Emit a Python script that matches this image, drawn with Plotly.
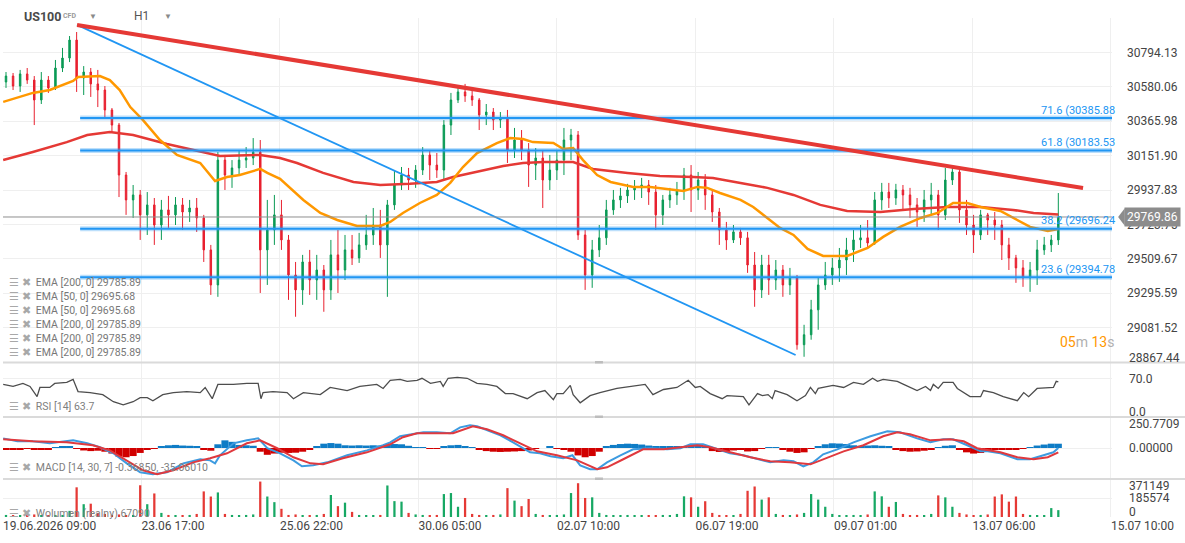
import plotly.graph_objects as go
from plotly.subplots import make_subplots

# H1 candles, one slot per candle (index 0..149)
candle_open = [30610, 30647, 30585, 30660, 30622, 30498, 30622, 30573, 30697, 30759,
               30871, 30635, 30672, 30598, 30560, 30436, 30342, 30031, 29876, 29907,
               29783, 29845, 29720, 29814, 29783, 29845, 29801, 29826, 29764, 29565,
               29347, 30124, 30031, 30075, 30124, 30137, 30174, 29565, 29689, 29783,
               29627, 29409, 29316, 29490, 29378, 29440, 29316, 29534, 29440, 29565,
               29515, 29596, 29658, 29720, 29596, 29845, 29969, 30031, 30000, 30062,
               30156, 30093, 30062, 30342, 30498, 30548, 30523, 30498, 30405, 30423,
               30373, 30386, 30187, 30249, 30187, 30093, 30137, 30000, 30062, 30124,
               30249, 30280, 29658, 29409, 29565, 29640, 29814, 29876, 29901, 29938,
               29951, 29969, 29925, 29783, 29876, 29907, 29938, 30031, 29938, 30000,
               29907, 29801, 29689, 29627, 29677, 29640, 29471, 29316, 29471, 29378,
               29440, 29347, 29391, 28975, 29037, 29192, 29347, 29409, 29453, 29502,
               29565, 29627, 29640, 29608, 29876, 29925, 29888, 29938, 29907, 29845,
               29801, 29876, 29907, 29783, 30000, 30050, 29814, 29720, 29658, 29783,
               29751, 29720, 29596, 29515, 29453, 29391, 29440, 29565, 29596, 29627]
candle_high = [30672, 30666, 30685, 30697, 30647, 30672, 30647, 30747, 30822, 30896,
               30921, 30709, 30697, 30685, 30585, 30448, 30355, 30050, 29969, 29938,
               29925, 29888, 29876, 29901, 29894, 29888, 29876, 29888, 29783, 29596,
               30174, 30156, 30124, 30187, 30205, 30261, 30249, 29876, 29907, 29876,
               29658, 29490, 29534, 29565, 29534, 29471, 29627, 29689, 29658, 29658,
               29671, 29783, 29826, 29814, 29876, 30062, 30081, 30075, 30093, 30205,
               30187, 30168, 30373, 30542, 30591, 30598, 30560, 30510, 30473, 30448,
               30423, 30436, 30324, 30311, 30230, 30199, 30187, 30156, 30187, 30324,
               30318, 30305, 29689, 29627, 29720, 29876, 29938, 29951, 29976, 30000,
               30013, 30000, 29969, 29907, 29951, 29988, 30075, 30093, 30050, 30037,
               29938, 29826, 29739, 29720, 29702, 29677, 29552, 29534, 29534, 29502,
               29471, 29453, 29409, 29099, 29254, 29391, 29490, 29515, 29577, 29640,
               29689, 29720, 29751, 29925, 29982, 29982, 29976, 29969, 29951, 29888,
               29938, 29982, 29938, 30075, 30081, 30062, 29876, 29783, 29814, 29795,
               29801, 29751, 29640, 29534, 29502, 29490, 29627, 29646, 29658, 29919]
candle_low = [30573, 30560, 30548, 30598, 30342, 30473, 30542, 30560, 30672, 30734,
              30548, 30529, 30517, 30454, 30392, 30299, 29894, 29783, 29764, 29627,
              29658, 29596, 29627, 29702, 29720, 29689, 29739, 29677, 29490, 29285,
              29273, 29938, 29951, 30031, 30075, 30093, 29297, 29347, 29596, 29565,
              29254, 29149, 29223, 29285, 29254, 29180, 29254, 29297, 29378, 29471,
              29484, 29565, 29596, 29515, 29273, 29814, 29938, 29938, 29951, 30031,
              30000, 30013, 30000, 30280, 30479, 30486, 30461, 30311, 30342, 30311,
              30324, 30106, 30137, 30124, 29957, 30000, 29826, 29938, 30000, 30031,
              30124, 29627, 29316, 29329, 29521, 29596, 29783, 29826, 29857, 29876,
              29888, 29845, 29689, 29720, 29826, 29845, 29876, 29801, 29876, 29814,
              29739, 29596, 29565, 29608, 29596, 29422, 29211, 29266, 29285, 29316,
              29273, 29285, 28944, 28900, 29006, 29068, 29316, 29347, 29366, 29409,
              29490, 29577, 29577, 29596, 29814, 29826, 29845, 29814, 29764, 29708,
              29739, 29783, 29689, 29751, 29969, 29733, 29658, 29546, 29627, 29658,
              29627, 29502, 29440, 29360, 29335, 29304, 29347, 29534, 29552, 29596]
candle_close = [30647, 30585, 30660, 30622, 30498, 30622, 30573, 30697, 30759, 30871,
                30635, 30672, 30598, 30560, 30436, 30342, 30031, 29876, 29907, 29783,
                29845, 29720, 29814, 29783, 29845, 29801, 29826, 29764, 29565, 29347,
                30124, 30031, 30075, 30124, 30137, 30174, 29565, 29689, 29783, 29627,
                29409, 29316, 29490, 29378, 29440, 29316, 29534, 29440, 29565, 29515,
                29596, 29658, 29720, 29596, 29845, 29969, 30031, 30000, 30062, 30156,
                30093, 30062, 30342, 30498, 30548, 30523, 30498, 30405, 30423, 30373,
                30386, 30187, 30249, 30187, 30093, 30137, 30000, 30062, 30124, 30249,
                30280, 29658, 29409, 29565, 29640, 29814, 29876, 29901, 29938, 29951,
                29969, 29925, 29783, 29876, 29907, 29938, 30031, 29938, 30000, 29907,
                29801, 29689, 29627, 29677, 29640, 29471, 29316, 29471, 29378, 29440,
                29347, 29391, 28975, 29037, 29192, 29347, 29409, 29453, 29502, 29565,
                29627, 29640, 29608, 29876, 29925, 29888, 29938, 29907, 29845, 29801,
                29876, 29907, 29783, 30000, 30050, 29814, 29720, 29658, 29783, 29751,
                29720, 29596, 29515, 29453, 29391, 29440, 29565, 29596, 29627, 29769.86]
volume = [20000, 15000, 18000, 12000, 25000, 15000, 12000, 15000, 20000, 60000,
          290000, 125000, 130000, 40000, 30000, 20000, 25000, 15000, 20000, 310000,
          125000, 230000, 40000, 20000, 15000, 18000, 20000, 30000, 250000, 200000,
          240000, 30000, 20000, 15000, 20000, 25000, 346000, 200000, 145000, 80000,
          20000, 25000, 18000, 15000, 20000, 30000, 215000, 106000, 140000, 50000,
          20000, 15000, 18000, 20000, 308000, 155000, 150000, 40000, 25000, 20000,
          15000, 20000, 224000, 234000, 100000, 186000, 30000, 20000, 15000, 20000,
          25000, 282000, 160000, 106000, 176000, 30000, 20000, 15000, 20000, 25000,
          234000, 330000, 186000, 192000, 40000, 20000, 15000, 18000, 20000, 15000,
          12000, 18000, 15000, 20000, 15000, 30000, 202000, 192000, 100000, 154000,
          40000, 20000, 15000, 18000, 30000, 256000, 298000, 170000, 192000, 30000,
          20000, 15000, 25000, 40000, 224000, 170000, 100000, 30000, 18000, 15000,
          20000, 18000, 25000, 250000, 202000, 100000, 147000, 30000, 15000, 20000,
          18000, 30000, 211000, 192000, 100000, 40000, 25000, 15000, 20000, 25000,
          200000, 221000, 150000, 200000, 30000, 20000, 15000, 18000, 87000, 67090]
macd_hist = [-16, -16, -10, -5, -15, -16, -10, 8, 12, 10,
             -8, -20, -25, -22, -30, -45, -70, -75, -65, -40,
             -12, -5, 15, 22, 25, 20, 18, 15, -15, -22,
             30, 62, 50, 25, 22, 18, -30, -55, -45, -38,
             -40, -38, -30, -10, 12, 35, 40, 35, 22, 20,
             22, 20, 22, 20, 28, 32, 30, 18, 8, 6,
             -5, -6, 10, 22, 25, 15, 5, -12, -25, -30,
             -32, -30, -28, -25, -20, -8, 0, 12, -8, -12,
             -30, -60, -75, -65, -30, 10, 25, 32, 35, 33,
             28, 20, 15, 12, 10, 12, 15, 20, 18, 10,
             -25, -32, -30, -20, -15, -28, -25, -8, 4, 8,
             -10, -30, -40, -35, -5, 12, 30, 38, 36, 32,
             22, 18, 20, 22, 18, 14, -10, -25, -30, -28,
             -22, -10, 5, 18, 22, -12, -35, -45, -40, -28,
             -15, -15, -12, -12, -8, 5, 20, 28, 35, 34.69]

# moving averages, read at slot positions
ema50_x = [-0.4, 3.8, 6.2, 9.5, 10.2, 13.3, 14.7, 16.1, 17.6, 19.4, 21.8, 24.2, 27.5, 29.6, 31.3, 33.1, 36.0,
           37.0, 38.8, 42.1, 44.5, 46.9, 49.7, 53.0, 54.4, 56.2, 58.6, 61.0, 62.9, 64.7, 66.7, 69.5, 71.4,
           73.2, 74.6, 77.5, 78.9, 80.3, 81.7, 83.7, 85.6, 88.8, 91.2, 95.9, 97.9, 99.3, 101.1, 104.0, 105.8,
           107.8, 109.6, 111.5, 113.5, 115.7, 119.1, 122.0, 124.2, 126.6, 129.5, 131.9, 134.1, 136.1, 138.0,
           140.8, 142.6, 145.0, 147.5, 149.0]
ema50 = [30486, 30542, 30560, 30616, 30641, 30647, 30622, 30560, 30454, 30373, 30249, 30156, 30106, 29994,
         30019, 30031, 30069, 30044, 30007, 29876, 29795, 29751, 29714, 29714, 29739, 29795, 29857, 29907,
         29982, 30081, 30168, 30230, 30261, 30255, 30236, 30230, 30193, 30199, 30124, 30031, 29988, 29957,
         29957, 29932, 29957, 29951, 29919, 29876, 29832, 29764, 29702, 29658, 29571, 29527, 29527, 29577,
         29646, 29708, 29764, 29795, 29857, 29857, 29832, 29807, 29764, 29708, 29683, 29695.68]
ema200_x = [-0.4, 3.8, 8.6, 11.5, 14.7, 18.0, 22.8, 27.5, 30.3, 36.0, 38.8, 41.2, 44.9, 49.2, 53.0, 57.2,
            61.0, 63.3, 66.7, 70.4, 73.2, 76.1, 80.3, 83.1, 88.0, 92.6, 97.3, 100.1, 104.0, 107.8, 111.5,
            115.3, 119.1, 123.8, 128.5, 133.3, 138.0, 142.6, 145.5, 149.0]
ema200 = [30124, 30174, 30236, 30280, 30299, 30280, 30224, 30174, 30149, 30156, 30137, 30106, 30044, 29988,
          29969, 29976, 29988, 30019, 30050, 30087, 30106, 30112, 30112, 30069, 30044, 30025, 30019, 30013,
          29982, 29951, 29907, 29845, 29807, 29801, 29820, 29832, 29832, 29814, 29795, 29785.89]

rsi_x = [-0.4, 1.0, 2.4, 3.4, 4.4, 4.8, 6.2, 6.9, 8.6, 9.5, 10.2, 11.9, 13.7, 15.2, 16.6, 18.0, 19.0, 20.0,
         20.8, 22.2, 23.7, 25.6, 27.5, 28.2, 29.2, 30.0, 32.2, 34.1, 35.7, 36.1, 36.4, 37.8, 39.8, 40.7, 42.1,
         44.5, 45.9, 48.3, 50.1, 52.5, 53.4, 54.4, 55.8, 56.8, 58.2, 58.9, 60.1, 61.5, 61.9, 62.6, 63.9, 65.3,
         66.7, 68.1, 69.5, 70.7, 71.8, 73.8, 75.2, 76.3, 77.5, 78.0, 78.9, 79.9, 80.3, 81.3, 82.7, 84.1, 86.5,
         88.4, 90.5, 91.6, 93.1, 95.0, 96.6, 97.6, 98.3, 99.7, 101.4, 102.1, 104.4, 105.2, 106.4, 107.1, 107.9,
         108.5, 108.9, 110.6, 112.0, 113.2, 113.9, 114.6, 115.0, 117.1, 118.6, 120.0, 121.4, 122.7, 123.4,
         124.2, 126.2, 127.1, 129.0, 130.2, 130.9, 131.3, 132.0, 132.7, 134.1, 134.7, 136.5, 138.0, 138.4,
         139.8, 141.2, 143.2, 144.1, 144.8, 146.0, 148.3, 148.7, 149.0]
rsi = [59.3, 55.6, 61.1, 55.6, 37.0, 53.7, 53.7, 61.1, 63.0, 68.5, 46.3, 44.4, 40.7, 27.8, 22.2, 27.8, 35.2,
       35.2, 29.6, 40.7, 44.4, 46.3, 44.4, 53.7, 33.3, 59.3, 59.3, 61.1, 61.1, 33.3, 44.4, 46.3, 44.4, 33.3,
       44.4, 40.7, 53.7, 48.1, 55.6, 59.3, 51.9, 66.7, 68.5, 64.8, 66.7, 70.4, 61.1, 64.8, 55.6, 70.4, 72.2,
       70.4, 61.1, 59.3, 55.6, 42.6, 42.6, 33.3, 44.4, 48.1, 31.5, 42.6, 42.6, 57.4, 40.7, 25.9, 38.9, 44.4,
       51.9, 55.6, 59.3, 40.7, 50.0, 53.7, 66.7, 53.7, 55.6, 42.6, 33.3, 38.9, 37.0, 22.2, 42.6, 38.9, 40.7,
       33.3, 48.1, 40.7, 29.6, 38.9, 53.7, 42.6, 51.9, 57.4, 53.7, 63.0, 59.3, 70.4, 64.8, 68.5, 64.8, 59.3,
       48.1, 55.6, 48.1, 59.3, 51.9, 63.0, 63.0, 51.9, 37.0, 37.0, 48.1, 44.4, 37.0, 29.6, 44.4, 37.0, 51.9,
       53.7, 64.8, 63.7]

macd_x = [-0.4, 1.6, 3.8, 6.2, 9.5, 11.5, 13.3, 15.2, 17.1, 19.0, 20.8, 22.8, 25.1, 27.5, 28.9, 29.6, 30.3,
          32.2, 34.1, 35.7, 37.0, 38.8, 40.7, 41.9, 43.5, 45.5, 48.3, 51.1, 53.4, 54.4, 55.8, 57.2, 59.1, 61.0,
          62.9, 64.3, 65.7, 66.7, 68.1, 70.0, 71.8, 73.2, 74.2, 75.6, 77.1, 78.9, 80.2, 81.3, 82.7, 83.7, 85.1,
          87.0, 88.8, 91.2, 93.6, 95.5, 96.9, 98.7, 100.7, 102.5, 104.4, 106.4, 108.2, 110.1, 111.5, 112.9,
          114.3, 115.7, 117.7, 120.0, 122.4, 124.8, 126.6, 129.0, 130.9, 132.7, 134.1, 136.1, 138.0, 139.0,
          140.8, 143.2, 145.0, 146.9, 148.3, 149.0]
macd = [78, 54, 54, 38, 62, 38, 6, -43, -124, -197, -213, -197, -124, -91, -100, -124, -59, 38, 62, 78, -2,
        -43, -100, -148, -140, -116, -59, -19, 22, 46, 95, 111, 127, 127, 119, 167, 184, 176, 143, 103, 46, -2,
        -35, -43, -67, -83, -59, -140, -172, -172, -116, -59, -11, -2, -11, -2, 30, 30, -11, -43, -59, -91,
        -116, -100, -108, -148, -116, -51, -11, 46, 95, 135, 127, 78, 46, 70, 70, 22, -27, -27, -43, -91, -91,
        -59, -35, -0.3685]
signal_x = [-0.4, 3.8, 8.6, 12.3, 14.7, 17.1, 19.4, 21.4, 23.7, 26.5, 28.9, 31.3, 34.1, 36.0, 38.4, 40.7, 43.1,
            44.9, 47.7, 51.1, 53.4, 54.4, 56.2, 58.2, 61.0, 63.3, 66.1, 68.1, 70.4, 73.2, 75.2, 78.0, 80.9,
            83.7, 85.1, 87.4, 90.2, 93.1, 95.9, 97.9, 99.7, 102.5, 105.4, 108.2, 111.0, 113.9, 115.7, 118.6,
            121.4, 124.2, 126.2, 128.0, 130.9, 133.7, 135.6, 137.5, 140.8, 143.2, 145.5, 147.5, 149.0]
signal = [70, 54, 46, 22, -19, -100, -180, -213, -180, -116, -83, -43, 38, 62, -2, -75, -124, -132, -83, -35,
          6, 30, 87, 119, 119, 119, 176, 151, 103, 30, -27, -59, -100, -172, -156, -91, -11, -11, 6, 22, 6,
          -35, -75, -108, -116, -132, -91, -27, 22, 95, 127, 111, 62, 70, 54, -2, -35, -75, -91, -75, -35.0601]

# drawings: fibonacci levels and trend lines
fib_levels = [30385.88, 30183.53, 29696.24, 29394.78]
fib_names = ['71.6', '61.8', '38.2', '23.6']
fib_span = [10.5, 157.3]
trend_red_x = [10.06, 152.5]
trend_red_y = [30965, 29950]
trend_blue_x = [10.06, 111.8]
trend_blue_y = [30965, 28911]

# axes
price_ticks = [29081.52, 29295.59, 29509.67, 29723.75, 29937.83, 30151.90, 30365.98, 30580.06, 30794.13]
price_labels = ['29081.52', '29295.59', '29509.67', '29723.75', '29937.83', '30151.90', '30365.98',
                '30580.06', '30794.13']
price_range = [28867.44, 31008.2]
time_ticks = [-0.42, 19.18, 38.79, 58.4, 78.01, 97.62, 117.23, 136.84, 156.45]
time_labels = ['19.06.2026 09:00', '23.06 17:00', '25.06 22:00', '30.06 05:00', '02.07 10:00',
               '06.07 19:00', '09.07 01:00', '13.07 06:00', '15.07 10:00']
rsi_ticks = [0, 70]
rsi_labels = ['0.0', '70.0']
macd_ticks = [-250.771, 0, 250.7709]
macd_labels = ['-250.771', '0.00000', '250.7709']
vol_ticks = [0, 185574, 371149]
vol_labels = ['0', '185574', '371149']

legend_lines = ['EMA [200, 0] 29785.89', 'EMA [50, 0] 29695.68', 'EMA [50, 0] 29695.68',
                'EMA [200, 0] 29785.89', 'EMA [200, 0] 29785.89', 'EMA [200, 0] 29785.89']

GREEN = '#0a9a55'
RED = '#e8202f'
FIB_BLUE = '#2196f3'
GRID = '#efefef'
AXIS_TXT = '#444444'

slots = list(range(len(candle_close)))
up = [c >= o for o, c in zip(candle_open, candle_close)]

fig = make_subplots(rows=4, cols=1, shared_xaxes=True, vertical_spacing=0,
                    row_heights=[344, 55, 62, 38])

fig.add_trace(go.Candlestick(x=slots, open=candle_open, high=candle_high, low=candle_low, close=candle_close,
                             increasing=dict(line=dict(color=GREEN, width=1), fillcolor=GREEN),
                             decreasing=dict(line=dict(color=RED, width=1), fillcolor=RED),
                             whiskerwidth=0), row=1, col=1)
fig.add_trace(go.Scatter(x=ema200_x, y=ema200, mode='lines', line=dict(color='#e53935', width=2.5)), row=1, col=1)
fig.add_trace(go.Scatter(x=ema50_x, y=ema50, mode='lines', line=dict(color='#ff9800', width=2.5)), row=1, col=1)
for lvl in fib_levels:
    fig.add_trace(go.Scatter(x=fib_span, y=[lvl, lvl], mode='lines',
                             line=dict(color='rgba(33,150,243,0.3)', width=5)), row=1, col=1)
    fig.add_trace(go.Scatter(x=fib_span, y=[lvl, lvl], mode='lines',
                             line=dict(color=FIB_BLUE, width=2)), row=1, col=1)
fig.add_trace(go.Scatter(x=trend_blue_x, y=trend_blue_y, mode='lines',
                         line=dict(color=FIB_BLUE, width=1.8)), row=1, col=1)
fig.add_trace(go.Scatter(x=trend_red_x, y=trend_red_y, mode='lines',
                         line=dict(color='#e53935', width=4)), row=1, col=1)

# RSI
fig.add_trace(go.Scatter(x=rsi_x, y=rsi, mode='lines', line=dict(color='#4d4d4d', width=1.3)), row=2, col=1)

# MACD
fig.add_trace(go.Bar(x=slots, y=macd_hist, width=1.0,
                     marker=dict(color=['#0e7cc6' if h >= 0 else '#d10000' for h in macd_hist], line_width=0)),
              row=3, col=1)
fig.add_trace(go.Scatter(x=macd_x, y=macd, mode='lines', line=dict(color='#3d9be0', width=2)), row=3, col=1)
fig.add_trace(go.Scatter(x=signal_x, y=signal, mode='lines', line=dict(color='#e0393e', width=2)), row=3, col=1)

# volume
fig.add_trace(go.Bar(x=slots, y=volume, width=0.32,
                     marker=dict(color=['#17a864' if u else '#e53935' for u in up], line_width=0)),
              row=4, col=1)

fig.update_xaxes(range=[-0.425, 156.6], tickvals=time_ticks, ticktext=time_labels, showgrid=True,
                 gridcolor=GRID, gridwidth=1, zeroline=False, showline=False, ticks='',
                 rangeslider_visible=False)
fig.update_xaxes(ticklabelposition='outside right', tickfont=dict(size=12, color=AXIS_TXT), row=4, col=1)

fig.update_yaxes(side='right', showgrid=True, gridcolor=GRID, zeroline=False, showline=False, ticks='')
fig.update_yaxes(range=price_range, tickvals=price_ticks, ticktext=price_labels, ticklabelstandoff=14,
                 tickfont=dict(size=12, color=AXIS_TXT), row=1, col=1)
fig.update_yaxes(range=[0, 100], tickvals=rsi_ticks, showticklabels=False, row=2, col=1)
fig.update_yaxes(range=[-250.7709, 250.7709], tickvals=[0], showticklabels=False, row=3, col=1)
fig.update_yaxes(range=[0, 371149], tickvals=[185574], showticklabels=False, row=4, col=1)

ann = []
# axis labels of the lower panels (edge ones nudged inside, as on the platform)
for ticks, labels, yref, shifts in [(rsi_ticks, rsi_labels, 'y2', [5, 0]),
                                    (macd_ticks, macd_labels, 'y3', [6, 0, -7]),
                                    (vol_ticks, vol_labels, 'y4', [5, 0, -7]),
                                    ([price_range[0]], ['28867.44'], 'y', [4])]:
    for t, lab, s in zip(ticks, labels, shifts):
        ann.append(dict(x=1, xref='paper', xanchor='left', xshift=15, y=t, yref=yref, yshift=s,
                        yanchor='middle', text=lab, showarrow=False, font=dict(size=12, color=AXIS_TXT)))

# fibonacci labels
for lvl, name in zip(fib_levels, fib_names):
    ann.append(dict(x=1.0045, xref='paper', xanchor='right', y=lvl, yref='y', yshift=8, yanchor='middle',
                    text=f'{name} ({lvl:.2f}'[:len(name) + 10], showarrow=False,
                    font=dict(size=11, color=FIB_BLUE)))

# current price marker
last = candle_close[-1]
ann.append(dict(x=1, xref='paper', xanchor='left', xshift=12, y=last, yref='y', yanchor='middle',
                text=f'{last:.2f}', showarrow=False, bgcolor='#8c8c8c', borderpad=2,
                font=dict(size=12, color='white')))

# indicator legend in the price panel
icons = "<span style='color:#a8a8a8'>☰ ✖</span>  "
for k, line in enumerate(legend_lines):
    ann.append(dict(x=0.004, xref='paper', xanchor='left', y=0.4709 - k * 0.02805, yref='paper',
                    yanchor='middle', text=icons + line, showarrow=False,
                    font=dict(size=10.5, color='#777777')))
for txt, yy in [('RSI [14] 63.7', 0.2224),
                ('MACD [14, 30, 7] -0.36850, -35.06010', 0.0982),
                ('Wolumen (realny) 67090', 0.008)]:
    ann.append(dict(x=0.004, xref='paper', xanchor='left', y=yy, yref='paper', yanchor='middle',
                    text=icons + txt, showarrow=False, font=dict(size=10.5, color='#808080')))

# header
header = [('<b>US100</b>', 0.017, 12.5, '#4a4a4a'), ('<b>CFD</b>', 0.052, 7, '#9a9a9a'),
          ('▼', 0.076, 8, '#8a8a8a'), ('H1', 0.116, 12, '#555555'), ('▼', 0.143, 8, '#8a8a8a')]
for txt, xx, size, col in header:
    ann.append(dict(x=xx, xref='paper', xanchor='left', y=1.004, yref='paper', yanchor='middle',
                    text=txt, showarrow=False, font=dict(size=size, color=col)))
ann.append(dict(x=1.0036, xref='paper', xanchor='right', y=0.3507, yref='paper', yanchor='middle',
                text="<span style='color:#ff9800'>05</span><span style='color:#b0b0b0'>m </span>"
                     "<span style='color:#ff9800'>13</span><span style='color:#b0b0b0'>s</span>",
                showarrow=False, font=dict(size=14)))

shapes = [
    dict(type='line', xref='paper', x0=0, x1=1, yref='y', y0=last, y1=last, line=dict(color='#8f8f8f', width=1)),
    dict(type='path', xref='paper', yref='y', fillcolor='#8c8c8c', line=dict(width=0),
         path=f'M 1.0055 {last} L 1.0115 {last + 55} L 1.0115 {last - 55} Z'),
]
for yy in [0.3096, 0.2004, 0.0762]:
    shapes.append(dict(type='line', xref='paper', x0=0, x1=1.066, yref='paper', y0=yy, y1=yy,
                       line=dict(color='#dadada', width=2)))
    shapes.append(dict(type='rect', xref='paper', x0=0.5338, x1=0.5410, yref='paper', y0=yy - 0.002,
                       y1=yy + 0.003, fillcolor='#bdbdbd', line=dict(width=0)))

fig.update_layout(
    width=1185, height=543,
    margin=dict(l=3, r=73, t=18, b=26),
    paper_bgcolor='white', plot_bgcolor='white',
    showlegend=False,
    boxgap=0.7,
    font=dict(family='Roboto, Arial, sans-serif', size=12, color=AXIS_TXT),
    annotations=ann,
    shapes=shapes,
)

fig.write_html("out.html", config={'displayModeBar': False},
               post_script="document.body.style.margin='0';")
